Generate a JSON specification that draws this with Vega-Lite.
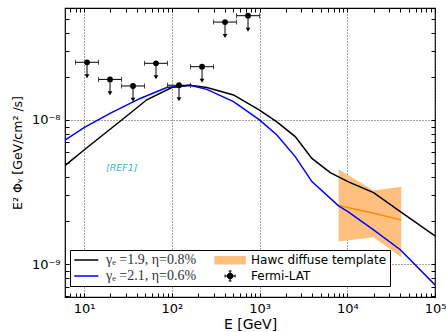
{
  "$schema": "https://vega.github.io/schema/vega-lite/v6.json",
  "autosize": {"type": "none"},
  "width": 370,
  "height": 289,
  "padding": {"left": 65, "top": 8, "right": 11, "bottom": 35},
  "background": "white",
  "datasets": {
    "curves": [
      {"series": "γₑ =1.9, η=0.8%", "E": 6.07, "flux": 4.83e-9},
      {"series": "γₑ =1.9, η=0.8%", "E": 10, "flux": 6.19e-9},
      {"series": "γₑ =1.9, η=0.8%", "E": 26.9, "flux": 1.0e-8},
      {"series": "γₑ =1.9, η=0.8%", "E": 51.9, "flux": 1.38e-8},
      {"series": "γₑ =1.9, η=0.8%", "E": 100, "flux": 1.68e-8},
      {"series": "γₑ =1.9, η=0.8%", "E": 162, "flux": 1.74e-8},
      {"series": "γₑ =1.9, η=0.8%", "E": 251, "flux": 1.68e-8},
      {"series": "γₑ =1.9, η=0.8%", "E": 505, "flux": 1.49e-8},
      {"series": "γₑ =1.9, η=0.8%", "E": 1000, "flux": 1.17e-8},
      {"series": "γₑ =1.9, η=0.8%", "E": 1578, "flux": 9.7e-9},
      {"series": "γₑ =1.9, η=0.8%", "E": 2553, "flux": 7.67e-9},
      {"series": "γₑ =1.9, η=0.8%", "E": 3954, "flux": 5.42e-9},
      {"series": "γₑ =1.9, η=0.8%", "E": 6398, "flux": 4.31e-9},
      {"series": "γₑ =1.9, η=0.8%", "E": 10180, "flux": 3.74e-9},
      {"series": "γₑ =1.9, η=0.8%", "E": 19950, "flux": 3.14e-9},
      {"series": "γₑ =1.9, η=0.8%", "E": 40270, "flux": 2.32e-9},
      {"series": "γₑ =1.9, η=0.8%", "E": 100000, "flux": 1.57e-9},
      {"series": "γₑ =2.1, η=0.6%", "E": 6.07, "flux": 7.26e-9},
      {"series": "γₑ =2.1, η=0.6%", "E": 10, "flux": 8.85e-9},
      {"series": "γₑ =2.1, η=0.6%", "E": 19.8, "flux": 1.11e-8},
      {"series": "γₑ =2.1, η=0.6%", "E": 43.6, "flux": 1.41e-8},
      {"series": "γₑ =2.1, η=0.6%", "E": 87.7, "flux": 1.68e-8},
      {"series": "γₑ =2.1, η=0.6%", "E": 162, "flux": 1.74e-8},
      {"series": "γₑ =2.1, η=0.6%", "E": 251, "flux": 1.63e-8},
      {"series": "γₑ =2.1, η=0.6%", "E": 505, "flux": 1.34e-8},
      {"series": "γₑ =2.1, η=0.6%", "E": 1000, "flux": 1.0e-8},
      {"series": "γₑ =2.1, η=0.6%", "E": 1578, "flux": 7.87e-9},
      {"series": "γₑ =2.1, η=0.6%", "E": 2553, "flux": 5.57e-9},
      {"series": "γₑ =2.1, η=0.6%", "E": 3954, "flux": 3.74e-9},
      {"series": "γₑ =2.1, η=0.6%", "E": 7960, "flux": 2.54e-9},
      {"series": "γₑ =2.1, η=0.6%", "E": 10180, "flux": 2.32e-9},
      {"series": "γₑ =2.1, η=0.6%", "E": 19950, "flux": 1.73e-9},
      {"series": "γₑ =2.1, η=0.6%", "E": 40270, "flux": 1.26e-9},
      {"series": "γₑ =2.1, η=0.6%", "E": 100000, "flux": 7.19e-10}
    ],
    "hawc": [
      {"E": 7960, "lo": 1.44e-9, "hi": 4.55e-9, "mid": 2.55e-9},
      {"E": 19950, "lo": 1.54e-9, "hi": 3.24e-9, "mid": 2.26e-9},
      {"E": 41300, "lo": 1.12e-9, "hi": 3.45e-9, "mid": 2.03e-9}
    ],
    "fermi": [
      {"E": 10.82, "Elo": 8, "Ehi": 14.63, "ul": 2.51e-8, "tip": 2.01e-8},
      {"E": 19.78, "Elo": 14.63, "Ehi": 26.75, "ul": 1.91e-8, "tip": 1.53e-8},
      {"E": 36.17, "Elo": 26.75, "Ehi": 48.9, "ul": 1.72e-8, "tip": 1.38e-8},
      {"E": 66.1, "Elo": 48.9, "Ehi": 89.4, "ul": 2.47e-8, "tip": 1.98e-8},
      {"E": 120.9, "Elo": 89.4, "Ehi": 163.6, "ul": 1.74e-8, "tip": 1.39e-8},
      {"E": 221.2, "Elo": 163.6, "Ehi": 299.1, "ul": 2.34e-8, "tip": 1.87e-8},
      {"E": 404.5, "Elo": 299.1, "Ehi": 547, "ul": 4.77e-8, "tip": 3.82e-8},
      {"E": 739.7, "Elo": 547, "Ehi": 1000, "ul": 5.28e-8, "tip": 4.22e-8}
    ],
    "notes": [
      {"E": 26.9, "flux": 4.65e-9, "text": "[REF1]"}
    ]
  },
  "resolve": {"axis": {"x": "independent", "y": "independent"}},
  "layer": [
    {
      "data": {"name": "hawc"},
      "mark": {"type": "area", "color": "#ffc07f", "opacity": 1, "clip": true},
      "encoding": {
        "x": {
          "field": "E", "type": "quantitative",
          "scale": {"type": "log", "domain": [6.07, 100000], "nice": false},
          "axis": {
            "orient": "bottom", "values": [10, 100, 1000, 10000, 100000],
            "labelExpr": "datum.value === 10 ? '10¹' : datum.value === 100 ? '10²' : datum.value === 1000 ? '10³' : datum.value === 10000 ? '10⁴' : '10⁵'",
            "ticks": false, "grid": true, "labelFlush": false, "labelOverlap": false, "labelPadding": 5,
            "title": "E [GeV]", "titlePadding": 2
          }
        },
        "y": {
          "field": "hi", "type": "quantitative",
          "scale": {"type": "log", "domain": [5.93e-10, 5.97e-8], "nice": false},
          "axis": {
            "orient": "left", "values": [1e-9, 1e-8],
            "labelExpr": "datum.value < 5e-9 ? '10⁻⁹' : '10⁻⁸'",
            "ticks": false, "grid": true, "labelFlush": false, "labelOverlap": false, "labelPadding": 5,
            "title": "E² Φᵧ [GeV/cm² /s]", "titlePadding": 7, "titleFontSize": 12.5
          }
        },
        "y2": {"field": "lo"}
      }
    },
    {
      "data": {"name": "hawc"},
      "mark": {"type": "line", "color": "#ff8c00", "strokeWidth": 1.5, "clip": true},
      "encoding": {
        "x": {
          "field": "E", "type": "quantitative",
          "axis": {
            "orient": "bottom", "labels": false, "grid": false, "ticks": true, "tickSize": -4, "title": null,
            "values": [7, 8, 9, 10, 20, 30, 40, 50, 60, 70, 80, 90, 100, 200, 300, 400, 500, 600, 700, 800, 900, 1000, 2000, 3000, 4000, 5000, 6000, 7000, 8000, 9000, 10000, 20000, 30000, 40000, 50000, 60000, 70000, 80000, 90000, 100000]
          }
        },
        "y": {
          "field": "mid", "type": "quantitative",
          "axis": {
            "orient": "left", "labels": false, "grid": false, "ticks": true, "tickSize": -4, "title": null,
            "values": [6e-10, 7e-10, 8e-10, 9e-10, 1e-9, 2e-9, 3e-9, 4e-9, 5e-9, 6e-9, 7e-9, 8e-9, 9e-9, 1e-8, 2e-8, 3e-8, 4e-8, 5e-8]
          }
        }
      }
    },
    {
      "data": {"name": "curves"},
      "mark": {"type": "line", "strokeWidth": 1.5, "clip": true},
      "encoding": {
        "x": {
          "field": "E", "type": "quantitative",
          "axis": {
            "orient": "top", "labels": false, "grid": false, "ticks": true, "tickSize": -4, "title": null,
            "values": [7, 8, 9, 10, 20, 30, 40, 50, 60, 70, 80, 90, 100, 200, 300, 400, 500, 600, 700, 800, 900, 1000, 2000, 3000, 4000, 5000, 6000, 7000, 8000, 9000, 10000, 20000, 30000, 40000, 50000, 60000, 70000, 80000, 90000, 100000]
          }
        },
        "y": {
          "field": "flux", "type": "quantitative",
          "axis": {
            "orient": "right", "labels": false, "grid": false, "ticks": true, "tickSize": -4, "title": null,
            "values": [6e-10, 7e-10, 8e-10, 9e-10, 1e-9, 2e-9, 3e-9, 4e-9, 5e-9, 6e-9, 7e-9, 8e-9, 9e-9, 1e-8, 2e-8, 3e-8, 4e-8, 5e-8]
          }
        },
        "color": {
          "field": "series", "type": "nominal",
          "scale": {
            "domain": ["γₑ =1.9, η=0.8%", "γₑ =2.1, η=0.6%", "Hawc diffuse template", "Fermi-LAT"],
            "range": ["black", "blue", "#ffc07f", "black"]
          },
          "legend": {
            "orient": "none", "legendX": 5, "legendY": 242, "columns": 2, "title": null,
            "fillColor": "white", "strokeColor": "black", "padding": 3,
            "columnPadding": 15, "rowPadding": 2, "symbolSize": 100, "symbolType": "stroke",
            "labelFont": "DejaVu Sans", "labelFontSize": 12, "labelColor": "black",
            "labelOffset": 19, "labelLimit": 300,
            "encode": {
              "symbols": {
                "update": {
                  "shape": {"signal": "datum.value === 'Hawc diffuse template' ? 'M-1.98,-0.7L4.02,-0.7L4.02,0.7L-1.98,0.7Z' : datum.value === 'Fermi-LAT' ? 'M0.02,0L2.02,0M1.02,-1L1.02,1M0.02,-0.3L0.02,0.3M2.02,-0.3L2.02,0.3M0.72,-1L1.32,-1M0.72,1L1.32,1M1.62,0L1.44,0.42L1.02,0.6L0.6,0.42L0.42,0L0.6,-0.42L1.02,-0.6L1.44,-0.42Z' : 'M-1.14,0L3.66,0'"},
                  "fill": {"signal": "datum.value === 'Hawc diffuse template' ? '#ffc07f' : datum.value === 'Fermi-LAT' ? 'black' : 'transparent'"},
                  "stroke": {"signal": "datum.value === 'Hawc diffuse template' ? 'transparent' : datum.value === 'γₑ =2.1, η=0.6%' ? 'blue' : 'black'"},
                  "strokeWidth": {"signal": "datum.value === 'Fermi-LAT' ? 1 : 1.5"}
                }
              },
              "labels": {
                "update": {
                  "font": {"signal": "datum.value === 'Hawc diffuse template' || datum.value === 'Fermi-LAT' ? 'DejaVu Sans' : 'Liberation Serif'"},
                  "fontSize": {"signal": "datum.value === 'Hawc diffuse template' || datum.value === 'Fermi-LAT' ? 12 : 14"},
                  "fill": {"signal": "datum.value === 'Hawc diffuse template' || datum.value === 'Fermi-LAT' ? 'black' : '#333333'"}
                }
              }
            }
          }
        }
      }
    },
    {
      "data": {"name": "fermi"},
      "mark": {"type": "rule", "color": "black", "strokeWidth": 1},
      "encoding": {
        "x": {"field": "Elo", "type": "quantitative", "axis": null},
        "x2": {"field": "Ehi"},
        "y": {"field": "ul", "type": "quantitative", "axis": null}
      }
    },
    {
      "data": {"name": "fermi"},
      "mark": {"type": "tick", "orient": "vertical", "color": "black", "size": 5, "thickness": 1},
      "encoding": {
        "x": {"field": "Elo", "type": "quantitative", "axis": null},
        "y": {"field": "ul", "type": "quantitative", "axis": null}
      }
    },
    {
      "data": {"name": "fermi"},
      "mark": {"type": "tick", "orient": "vertical", "color": "black", "size": 5, "thickness": 1},
      "encoding": {
        "x": {"field": "Ehi", "type": "quantitative", "axis": null},
        "y": {"field": "ul", "type": "quantitative", "axis": null}
      }
    },
    {
      "data": {"name": "fermi"},
      "mark": {"type": "rule", "color": "black", "strokeWidth": 1},
      "encoding": {
        "x": {"field": "E", "type": "quantitative", "axis": null},
        "y": {"field": "ul", "type": "quantitative", "axis": null},
        "y2": {"field": "tip"}
      }
    },
    {
      "data": {"name": "fermi"},
      "mark": {"type": "point", "shape": "triangle-down", "filled": true, "color": "black", "size": 22, "opacity": 1},
      "encoding": {
        "x": {"field": "E", "type": "quantitative", "axis": null},
        "y": {"field": "tip", "type": "quantitative", "axis": null}
      }
    },
    {
      "data": {"name": "fermi"},
      "mark": {"type": "circle", "color": "black", "size": 34, "opacity": 1},
      "encoding": {
        "x": {"field": "E", "type": "quantitative", "axis": null},
        "y": {"field": "ul", "type": "quantitative", "axis": null}
      }
    },
    {
      "data": {"name": "notes"},
      "mark": {"type": "text", "font": "DejaVu Sans", "fontStyle": "italic", "fontSize": 9.5, "color": "#3cb4e0"},
      "encoding": {
        "x": {"field": "E", "type": "quantitative", "axis": null},
        "y": {"field": "flux", "type": "quantitative", "axis": null},
        "text": {"field": "text"}
      }
    }
  ],
  "config": {
    "view": {"stroke": "black", "strokeWidth": 1.2},
    "axis": {
      "domain": false,
      "labelFont": "DejaVu Sans", "labelFontSize": 13, "labelColor": "black",
      "titleFont": "DejaVu Sans", "titleFontSize": 14, "titleFontWeight": "normal", "titleColor": "black",
      "tickColor": "black", "tickWidth": 1,
      "gridColor": "#444444", "gridDash": [1, 2], "gridWidth": 1, "gridOpacity": 1
    }
  }
}
